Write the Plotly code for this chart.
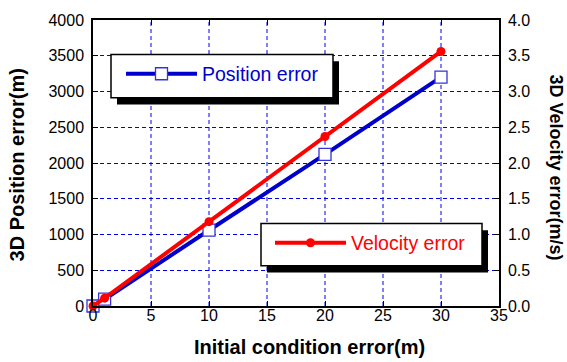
import plotly.graph_objects as go

# Initial condition error (m)
init_err = [0, 1, 10, 20, 30]
# 3D position error (m)
pos_err = [0, 95, 1060, 2120, 3200]
# 3D velocity error (m/s)
vel_err = [0.0, 0.11, 1.18, 2.37, 3.56]

x_ticks = [0, 5, 10, 15, 20, 25, 30, 35]
pos_ticks = [0, 500, 1000, 1500, 2000, 2500, 3000, 3500, 4000]
vel_ticks = [0.0, 0.5, 1.0, 1.5, 2.0, 2.5, 3.0, 3.5, 4.0]

W, H = 567, 362
L, R, T, B = 93, 68, 15, 56
PW, PH = W - L - R, H - T - B

FONT = "Arial, Liberation Sans, sans-serif"
BLUE = "#0000cc"
RED = "#ff0000"
GRID = "#0000ee"


def px(xp):
    return (xp - L) / PW


def py(yp):
    return (H - B - yp) / PH


fig = go.Figure()
fig.add_trace(go.Scatter(
    x=init_err, y=pos_err, name="Position error", mode="lines+markers",
    line=dict(color=BLUE, width=4),
    marker=dict(symbol="square", size=12, color="white",
                line=dict(color="#3333dd", width=1.3)),
    legend="legend", cliponaxis=False,
))
fig.add_trace(go.Scatter(
    x=init_err, y=vel_err, name="Velocity error", mode="lines+markers",
    yaxis="y2",
    line=dict(color=RED, width=4),
    marker=dict(symbol="circle", size=9, color=RED, line=dict(width=0)),
    legend="legend2", cliponaxis=False,
))

axis_common = dict(
    showline=True, linecolor="black", linewidth=1.5,
    ticks="inside", ticklen=5, tickcolor="black", tickwidth=1,
    tickfont=dict(family=FONT, size=16, color="black"),
    zeroline=False,
)

shapes = []
# vertical dashed grid at the interior x ticks
for xv in x_ticks[1:-1]:
    shapes.append(dict(type="line", xref="x", yref="paper",
                       x0=xv, x1=xv, y0=0, y1=1, layer="below",
                       line=dict(color=GRID, width=1, dash="4px,3px")))
# legend boxes: shadow first, then white framed box
for (x0, y0, x1, y1) in [(111, 50, 333, 94), (261, 222, 482, 265)]:
    shapes.append(dict(type="rect", xref="paper", yref="paper",
                       x0=px(x0 + 6), x1=px(x1 + 6), y0=py(y0 + 7), y1=py(y1 + 7),
                       fillcolor="black", line=dict(width=0), layer="above"))
    shapes.append(dict(type="rect", xref="paper", yref="paper",
                       x0=px(x0), x1=px(x1), y0=py(y0), y1=py(y1),
                       fillcolor="white", line=dict(color="black", width=1.5),
                       layer="above"))

annotations = [
    dict(text="<b>Initial condition error(m)</b>", xref="paper", yref="paper",
         x=px(309), y=py(348), showarrow=False,
         font=dict(family=FONT, size=20, color="black"),
         xanchor="center", yanchor="middle"),
    dict(text="<b>3D Position error(m)</b>", xref="paper", yref="paper",
         x=px(17), y=py(163), showarrow=False, textangle=-90,
         font=dict(family=FONT, size=20, color="black"),
         xanchor="center", yanchor="middle"),
    dict(text="<b>3D Velocity error(m/s)</b>", xref="paper", yref="paper",
         x=px(556), y=py(165), showarrow=False, textangle=90,
         font=dict(family=FONT, size=18, color="black"),
         xanchor="center", yanchor="middle"),
]

fig.update_layout(
    width=W, height=H,
    margin=dict(l=L, r=R, t=T, b=B, pad=0),
    paper_bgcolor="white", plot_bgcolor="white",
    font=dict(family=FONT, color="black"),
    xaxis=dict(range=[0, 35], tickvals=x_ticks, mirror="ticks",
               ticklabelstandoff=-6, showgrid=False,
               **axis_common),
    yaxis=dict(range=[0, 4000], tickvals=pos_ticks, ticklabelstandoff=4,
               showgrid=True, gridcolor=GRID, griddash="4px,3px", gridwidth=1,
               **axis_common),
    yaxis2=dict(range=[0, 4.0], tickvals=vel_ticks, tickformat=".1f",
                ticklabelstandoff=4,
                overlaying="y", side="right", showgrid=False, **axis_common),
    legend=dict(x=px(121), y=py(70), xanchor="left", yanchor="middle",
                bgcolor="rgba(0,0,0,0)", borderwidth=0, itemwidth=71,
                font=dict(family=FONT, size=19.5, color=BLUE)),
    legend2=dict(x=px(270), y=py(242), xanchor="left", yanchor="middle",
                 bgcolor="rgba(0,0,0,0)", borderwidth=0, itemwidth=71,
                 font=dict(family=FONT, size=19.5, color=RED)),
    shapes=shapes,
    annotations=annotations,
    showlegend=True,
)

fig.write_html("out.html")
